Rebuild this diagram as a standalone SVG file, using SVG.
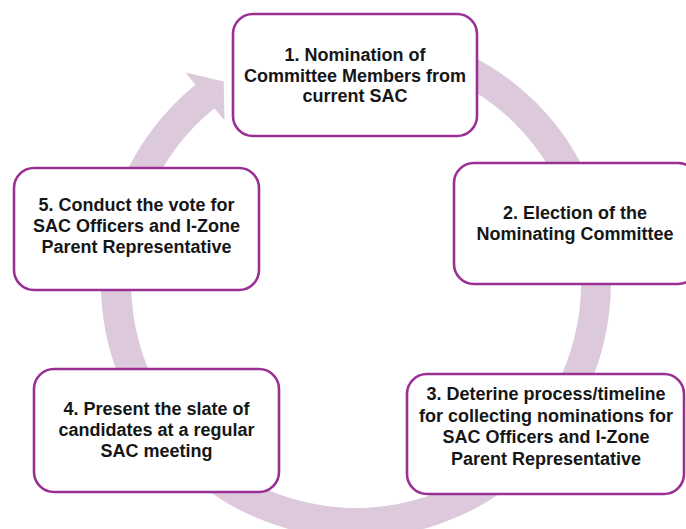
<svg xmlns="http://www.w3.org/2000/svg" width="686" height="529" viewBox="0 0 686 529">
  <style>
    .box { fill: #ffffff; stroke: #9a2f94; stroke-width: 2.6; }
    .lbl { font-family: "Liberation Sans", Arial, sans-serif; font-weight: bold; font-size: 18px; fill: #161616; text-anchor: middle; }
    .ring { fill: #dccadc; stroke: none; }
  </style>

  <!-- circular cycle arrow: centre (356,283), outer r 255, inner r 225 -->
  <g id="connectors">
    <path class="ring" d="M311.7,31.9 A255,255 0 1 1 195.5,84.8 L185.5,72.4 L223.7,81.4 L224.5,120.6 L214.4,108.2 A225,225 0 1 0 316.9,61.4 Z"/>
  </g>

  <g id="step1">
    <rect class="box" x="233" y="14" width="244" height="122" rx="20"/>
    <text class="lbl" x="355" y="61">1. Nomination of</text>
    <text class="lbl" x="355" y="81.5">Committee Members from</text>
    <text class="lbl" x="355" y="102">current SAC</text>
  </g>

  <g id="step2">
    <rect class="box" x="454" y="163" width="244" height="121" rx="20"/>
    <text class="lbl" x="575" y="218.5">2. Election of the</text>
    <text class="lbl" x="575" y="239.5">Nominating Committee</text>
  </g>

  <g id="step3">
    <rect class="box" x="407" y="374" width="277" height="120" rx="20"/>
    <text class="lbl" x="546" y="400">3. Deterine process/timeline</text>
    <text class="lbl" x="546" y="421.5">for collecting nominations for</text>
    <text class="lbl" x="546" y="443">SAC Officers and I-Zone</text>
    <text class="lbl" x="546" y="464.5">Parent Representative</text>
  </g>

  <g id="step4">
    <rect class="box" x="34" y="369" width="245" height="123" rx="20"/>
    <text class="lbl" x="156.5" y="415">4. Present the slate of</text>
    <text class="lbl" x="156.5" y="436">candidates at a regular</text>
    <text class="lbl" x="156.5" y="457">SAC meeting</text>
  </g>

  <g id="step5">
    <rect class="box" x="14" y="168" width="245" height="122" rx="20"/>
    <text class="lbl" x="136.5" y="211">5. Conduct the vote for</text>
    <text class="lbl" x="136.5" y="232">SAC Officers and I-Zone</text>
    <text class="lbl" x="136.5" y="253">Parent Representative</text>
  </g>
</svg>
